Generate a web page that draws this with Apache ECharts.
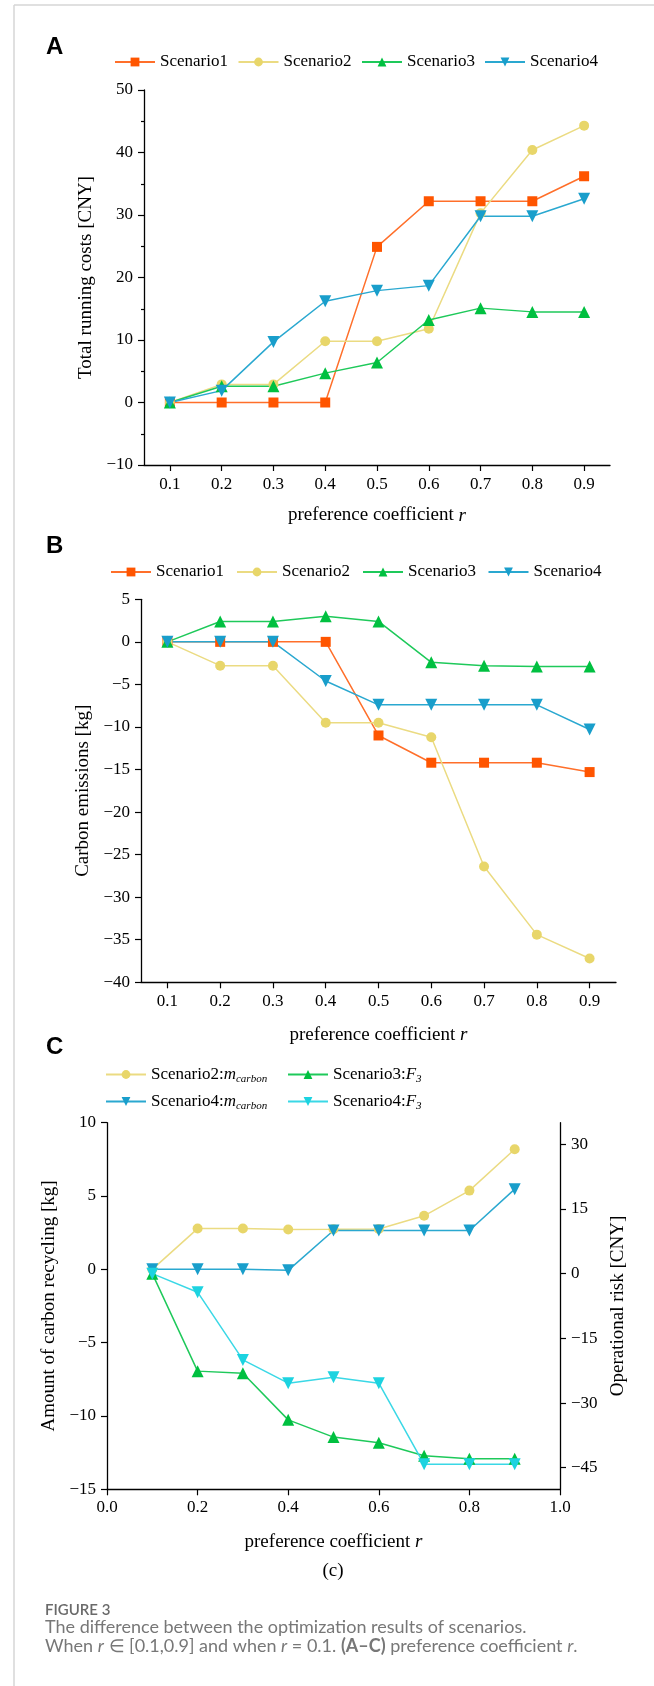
<!DOCTYPE html>
<html><head><meta charset="utf-8">
<script src="https://cdn.jsdelivr.net/npm/echarts@6/dist/echarts.min.js"></script>
<style>html,body{margin:0;padding:0;background:#fff}#c{width:654px;height:1686px}</style>
</head><body><div id="c"></div>
<script>
// ---------- data ----------
const rLabels = ['0.1','0.2','0.3','0.4','0.5','0.6','0.7','0.8','0.9'];
const rValues = [0.1,0.2,0.3,0.4,0.5,0.6,0.7,0.8,0.9];

// Panel A: total running costs [CNY]
const costS1 = [0,0,0,0,24.9,32.2,32.2,32.2,36.2];
const costS2 = [0,2.9,2.9,9.8,9.8,11.8,30.3,40.4,44.3];
const costS3 = [0,2.6,2.6,4.7,6.4,13.2,15.1,14.5,14.5];
const costS4 = [0,1.9,9.7,16.2,17.9,18.7,29.8,29.8,32.6];

// Panel B: carbon emissions [kg]
const emisS1 = [0,0,0,0,-11.0,-14.2,-14.2,-14.2,-15.3];
const emisS2 = [0,-2.8,-2.8,-9.5,-9.5,-11.2,-26.4,-34.4,-37.2];
const emisS3 = [0,2.4,2.4,3.0,2.4,-2.4,-2.8,-2.9,-2.9];
const emisS4 = [0,0,0,-4.6,-7.4,-7.4,-7.4,-7.4,-10.3];

// Panel C: carbon recycling [kg] (left) and operational risk [CNY] (right)
const mcarbonS2 = [0,2.78,2.78,2.72,2.73,2.75,3.65,5.37,8.19];
const riskS3    = [0,-22.6,-23.1,-33.9,-37.9,-39.2,-42.2,-42.9,-42.9];
const mcarbonS4 = [0,0,0,-0.07,2.65,2.65,2.65,2.65,5.47];
const riskS4    = [0,-4.3,-20.0,-25.4,-24.0,-25.4,-44.2,-44.2,-44.2];
const riskTicks = [-45,-30,-15,0,15,30];

// ---------- style ----------
const SERIF = '"Liberation Serif","Times New Roman",serif';
const SANS = '"Liberation Sans",Arial,sans-serif';
const CAP = 'Lato, "Open Sans", sans-serif';
const COL = {
  s1: {line:'#ff6f2a', mark:'#ff5500'},
  s2: {line:'#ebdb82', mark:'#e8d66a'},
  s3: {line:'#1ec95a', mark:'#00c040'},
  s4: {line:'#2aa8d0', mark:'#199ecb'},
  s4b:{line:'#3ad8e6', mark:'#1cd3e0'}
};
const minus = v => String(v).replace('-', '\u2212');

function axisBase(extra){
  return Object.assign({
    axisLine:{show:true, onZero:false, lineStyle:{color:'#000', width:1.3}},
    axisTick:{show:true, length:6, lineStyle:{color:'#000', width:1.2}},
    axisLabel:{color:'#000', fontFamily:SERIF, fontSize:17, margin:11, formatter:minus},
    splitLine:{show:false},
    nameTextStyle:{color:'#000', fontFamily:SERIF, fontSize:19}
  }, extra);
}
const xName = {
  name:'{a|preference coefficient }{i|r}',
  nameLocation:'middle',
  nameTextStyle:{color:'#000', fontFamily:SERIF, fontSize:19, rich:{
    a:{fontFamily:SERIF, fontSize:19, color:'#000'},
    i:{fontFamily:SERIF, fontSize:19, color:'#000', fontStyle:'italic'}}}
};

function ser(name, xi, yi, data, col, symbol, size, rot){
  return {
    type:'line', name, xAxisIndex:xi, yAxisIndex:yi, data,
    symbol, symbolSize:size, symbolRotate:rot||0, showSymbol:true,
    lineStyle:{color:col.line, width:1.5},
    itemStyle:{color:col.mark, borderWidth:0},
    emphasis:{disabled:true}, animation:false
  };
}
const pairs = arr => arr.map((v,i)=>[rValues[i], v]);

function lg(name, left, top, extra){
  return Object.assign({
    data:[name], left, top, orient:'horizontal', padding:0, itemGap:0,
    itemWidth:40, itemHeight:11, selectedMode:false,
    textStyle:{fontFamily:SERIF, fontSize:17, color:'#000'}
  }, extra||{});
}
const richLegend = {
  formatter: n => {
    const p = n.split(':');
    const v = p[1] === 'm_carbon' ? '{i|m}{sub|carbon}' : '{i|F}{sub|3}';
    return '{t|' + p[0] + ':}' + v;
  },
  textStyle:{fontFamily:SERIF, fontSize:17, color:'#000', rich:{
    t:{fontFamily:SERIF, fontSize:17, color:'#000'},
    i:{fontFamily:SERIF, fontSize:17, color:'#000', fontStyle:'italic'},
    sub:{fontFamily:SERIF, fontSize:11, color:'#000', fontStyle:'italic', padding:[9,0,0,0]}
  }}
};

const chart = echarts.init(document.getElementById('c'), null, {renderer:'canvas'});
chart.setOption({
  backgroundColor:'#fff',
  animation:false,
  grid:[
    {left:144, top:90, width:466, height:375},
    {left:141, top:599.3, width:475, height:383},
    {left:107, top:1122.7, width:453, height:366.6}
  ],
  xAxis:[
    axisBase(Object.assign({type:'category', gridIndex:0, data:rLabels, boundaryGap:true, nameGap:41,
      axisTick:{show:true, length:6, alignWithLabel:true, lineStyle:{color:'#000', width:1.2}}}, xName)),
    axisBase(Object.assign({type:'category', gridIndex:1, data:rLabels, boundaryGap:true, nameGap:43,
      axisTick:{show:true, length:6, alignWithLabel:true, lineStyle:{color:'#000', width:1.2}}}, xName)),
    axisBase(Object.assign({type:'value', gridIndex:2, min:0, max:1, interval:0.2, nameGap:43,
      axisLabel:{color:'#000', fontFamily:SERIF, fontSize:17, margin:10, formatter:v=>v.toFixed(1)}}, xName))
  ],
  yAxis:[
    axisBase({type:'value', gridIndex:0, min:-10, max:50, interval:10,
      minorTick:{show:true, splitNumber:2, length:3, lineStyle:{color:'#000', width:1.2}},
      name:'Total running costs [CNY]', nameLocation:'middle', nameGap:42}),
    axisBase({type:'value', gridIndex:1, min:-40, max:5, interval:5,
      name:'Carbon emissions [kg]', nameLocation:'middle', nameGap:46}),
    axisBase({type:'value', gridIndex:2, min:-15, max:10, interval:5, position:'left',
      name:'Amount of carbon recycling [kg]', nameLocation:'middle', nameGap:41}),
    axisBase({type:'value', gridIndex:2, min:-50, max:35, position:'right',
      axisLabel:{color:'#000', fontFamily:SERIF, fontSize:17, margin:11, formatter:minus, customValues:riskTicks},
      axisTick:{show:true, length:6, customValues:riskTicks, lineStyle:{color:'#000', width:1.2}},
      name:'Operational risk [CNY]', nameLocation:'middle', nameGap:43})
  ],
  legend:[
    lg('Scenario1',114,53.5), lg('Scenario2',237.5,53.5), lg('Scenario3',361,53.5), lg('Scenario4',484,53.5),
    lg('Scenario1',110,563.5), lg('Scenario2',236,563.5), lg('Scenario3',362,563.5), lg('Scenario4',487.5,563.5),
    lg('Scenario2:m_carbon',105,1066, richLegend), lg('Scenario3:F_3',287,1066, richLegend),
    lg('Scenario4:m_carbon',105,1093, richLegend), lg('Scenario4:F_3',287,1093, richLegend)
  ],
  series:[
    ser('Scenario1',0,0,costS1,COL.s1,'rect',10),
    ser('Scenario2',0,0,costS2,COL.s2,'circle',10),
    ser('Scenario3',0,0,costS3,COL.s3,'triangle',12),
    ser('Scenario4',0,0,costS4,COL.s4,'triangle',12,180),
    ser('Scenario1',1,1,emisS1,COL.s1,'rect',10),
    ser('Scenario2',1,1,emisS2,COL.s2,'circle',10),
    ser('Scenario3',1,1,emisS3,COL.s3,'triangle',12),
    ser('Scenario4',1,1,emisS4,COL.s4,'triangle',12,180),
    ser('Scenario2:m_carbon',2,2,pairs(mcarbonS2),COL.s2,'circle',10),
    ser('Scenario3:F_3',2,3,pairs(riskS3),COL.s3,'triangle',12),
    ser('Scenario4:m_carbon',2,2,pairs(mcarbonS4),COL.s4,'triangle',12,180),
    ser('Scenario4:F_3',2,3,pairs(riskS4),COL.s4b,'triangle',12,180)
  ],
  graphic:[
    {type:'line', shape:{x1:14,y1:5,x2:654,y2:5}, style:{stroke:'#d6d6d6', lineWidth:1.5}, silent:true},
    {type:'line', shape:{x1:14,y1:5,x2:14,y2:1686}, style:{stroke:'#d6d6d6', lineWidth:1.5}, silent:true},
    {type:'text', x:46, y:47, style:{text:'A', font:'bold 24px '+SANS, fill:'#000', textVerticalAlign:'middle'}},
    {type:'text', x:46, y:546, style:{text:'B', font:'bold 24px '+SANS, fill:'#000', textVerticalAlign:'middle'}},
    {type:'text', x:46, y:1047, style:{text:'C', font:'bold 24px '+SANS, fill:'#000', textVerticalAlign:'middle'}},
    {type:'text', x:333, y:1571, style:{text:'(c)', font:'19px '+SERIF, fill:'#000', textAlign:'center', textVerticalAlign:'middle'}},
    {type:'text', x:45, y:1610, style:{text:'FIGURE 3', font:'600 15px '+CAP, fill:'#6a6a6a', textVerticalAlign:'middle'}},
    {type:'text', x:45, y:1627, style:{text:'The difference between the optimization results of scenarios.', font:'18px '+CAP, fill:'#777', textVerticalAlign:'middle'}},
    {type:'text', x:45, y:1646, style:{
      text:'{n|When }{i|r}{n| \u2208 [0.1,0.9] and when }{i|r}{n| = 0.1. }{b|(A\u2013C)}{n| preference coefficient }{i|r}{n|.}',
      fill:'#777', textVerticalAlign:'middle', font:'18px '+CAP,
      rich:{
        n:{fontFamily:CAP, fontSize:18, fill:'#777'},
        i:{fontFamily:CAP, fontSize:18, fill:'#777', fontStyle:'italic'},
        b:{fontFamily:CAP, fontSize:18, fill:'#777', fontWeight:'bold'}
      }}}
  ]
});
</script></body></html>
